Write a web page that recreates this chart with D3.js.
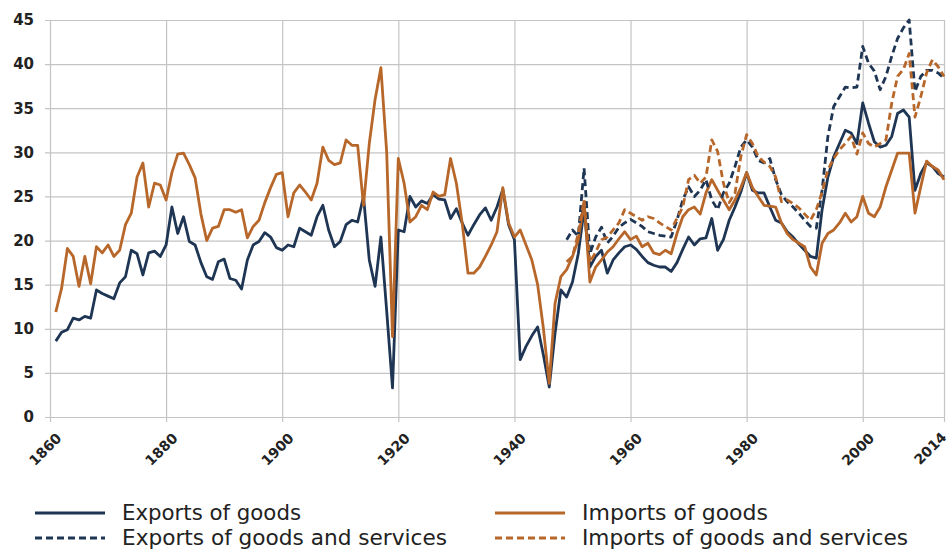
<!DOCTYPE html>
<html>
<head>
<meta charset="utf-8">
<script src="https://cdn.jsdelivr.net/npm/d3@7"></script>
<style>
  body { margin: 0; background: #fff; }
  svg { display: block; }
  .tick line { stroke: #c4c4c4; stroke-width: 1.2; }
  .tick text { font-family: "DejaVu Sans", sans-serif; font-weight: bold; fill: #222; }
  .legend text { font-family: "Liberation Sans Narrow", "DejaVu Sans Condensed", sans-serif; font-size: 22px; fill: #222; }
</style>
</head>
<body>
<svg id="chart" width="949" height="549"></svg>
<script>
// share of GDP, %, yearly
const solidStart = 1861;
const exportsGoods = [
  8.6, 9.6, 9.9, 11.2, 11.0, 11.4, 11.2, 14.4, 14.0,            // 1861-1869
  13.7, 13.4, 15.2, 15.9, 18.9, 18.5, 16.1, 18.6, 18.8, 18.2,   // 1870s
  19.5, 23.8, 20.8, 22.7, 19.9, 19.5, 17.5, 15.9, 15.6, 17.6,   // 1880s
  17.9, 15.7, 15.5, 14.5, 17.8, 19.5, 19.9, 20.9, 20.4, 19.2,   // 1890s
  18.9, 19.5, 19.3, 21.4, 21.0, 20.6, 22.7, 24.0, 21.2, 19.3,   // 1900s
  19.9, 21.8, 22.3, 22.1, 25.0, 17.8, 14.8, 20.4, 12.0, 3.3,    // 1910s
  21.2, 21.0, 25.0, 23.8, 24.5, 24.2, 25.2, 24.7, 24.6, 22.5,   // 1920s
  23.6, 22.0, 20.6, 21.8, 22.9, 23.7, 22.3, 23.8, 25.8, 21.8,   // 1930s
  20.1, 6.5, 8.0, 9.2, 10.2, 7.0, 3.4, 9.5, 14.4, 13.6,         // 1940s
  15.3, 18.5, 23.5, 17.0, 18.2, 18.9, 16.3, 17.8, 18.6, 19.3,   // 1950s
  19.5, 19.0, 18.2, 17.5, 17.2, 17.0, 17.0, 16.5, 17.5, 19.0,   // 1960s
  20.4, 19.5, 20.2, 20.3, 22.5, 18.9, 20.1, 22.3, 23.8, 25.5,   // 1970s
  27.7, 25.7, 25.4, 25.4, 23.8, 22.3, 22.0, 21.0, 20.4, 19.6,   // 1980s
  18.9, 18.2, 18.0, 23.5, 27.2, 29.5, 31.0, 32.5, 32.2, 31.0,   // 1990s
  35.6, 33.3, 31.2, 30.6, 30.8, 31.8, 34.4, 34.8, 34.0, 25.7,   // 2000s
  27.6, 28.8, 28.4, 27.6, 27.2                                  // 2010-2014
];
const importsGoods = [
  11.9, 14.6, 19.1, 18.2, 14.8, 18.2, 15.1, 19.3, 18.6,
  19.5, 18.2, 18.9, 21.8, 23.1, 27.2, 28.8, 23.8, 26.5, 26.3,
  24.6, 27.7, 29.8, 29.9, 28.6, 27.1, 23.0, 20.0, 21.4, 21.6,
  23.5, 23.5, 23.2, 23.5, 20.3, 21.6, 22.3, 24.3, 26.0, 27.5,
  27.7, 22.7, 25.4, 26.3, 25.5, 24.6, 26.5, 30.6, 29.1, 28.6,
  28.8, 31.4, 30.8, 30.8, 24.0, 31.0, 36.0, 39.6, 30.0, 9.1,
  29.3, 26.5, 22.1, 22.7, 24.0, 23.5, 25.5, 25.0, 25.2, 29.3,
  26.5, 22.0, 16.3, 16.3, 17.0, 18.2, 19.5, 21.0, 26.0, 22.0,
  20.4, 21.2, 19.5, 17.8, 15.0, 10.0, 3.8, 12.9, 15.9, 16.7,
  18.2, 20.1, 24.4, 15.3, 17.0, 17.8, 18.7, 19.3, 20.2, 21.0,
  20.1, 20.5, 19.3, 19.7, 18.6, 18.4, 18.9, 18.5, 20.8, 22.7,
  23.5, 23.8, 23.0, 25.4, 26.9, 25.7, 24.6, 23.5, 24.6, 26.0,
  27.7, 26.0, 25.0, 24.0, 23.9, 23.8, 22.0, 20.8, 20.1, 19.7,
  19.3, 17.0, 16.1, 19.7, 20.8, 21.2, 22.0, 23.1, 22.1, 22.7,
  25.0, 23.1, 22.7, 23.8, 26.1, 28.0, 29.9, 29.9, 29.9, 23.1,
  26.1, 29.0, 28.4, 28.0, 26.9
];

const dashedStart = 1949;
const exportsGoodsServices = [
  20.1,                                                         // 1949
  21.2, 20.5, 28.2, 18.5, 20.4, 21.5, 19.7, 20.5, 21.5, 22.0,
  22.4, 22.0, 21.6, 21.0, 20.8, 20.6, 20.5, 20.4, 22.3, 24.6,
  26.1, 25.0, 25.7, 26.9, 24.6, 23.5, 25.4, 26.5, 28.4, 30.6,
  31.4, 30.6, 29.1, 28.8, 29.3, 26.9, 25.2, 24.4, 23.8, 23.1,
  22.3, 21.6, 21.4, 25.7, 31.8, 35.2, 36.3, 37.4, 37.3, 37.4,
  42.0, 40.1, 39.2, 37.1, 38.6, 40.9, 42.9, 44.1, 45.0, 36.9,
  38.6, 39.3, 39.3, 39.0, 38.4
];
const importsGoodsServices = [
  17.6,
  18.2, 20.8, 24.6, 17.5, 18.7, 20.1, 20.4, 21.2, 22.0, 23.5,
  23.1, 22.7, 22.3, 22.7, 22.5, 22.0, 21.6, 21.2, 22.5, 23.8,
  26.9, 27.4, 26.5, 27.2, 31.4, 30.1, 26.5, 24.3, 25.4, 29.5,
  32.0, 31.0, 29.5, 28.9, 28.4, 27.2, 24.4, 24.6, 24.2, 23.7,
  23.0, 22.3, 23.5, 25.5, 28.0, 29.3, 30.3, 31.0, 31.8, 29.8,
  32.2, 31.0, 30.6, 31.0, 31.4, 35.6, 38.6, 39.4, 41.2, 34.0,
  36.3, 39.0, 40.5, 39.7, 38.6
];

const xTicks = [1860, 1880, 1900, 1920, 1940, 1960, 1980, 2000, 2014];
const yTicks = [0, 5, 10, 15, 20, 25, 30, 35, 40, 45];

const navy = '#1f3554';
const orange = '#b8672a';

const series = [
  { name: 'Exports of goods', start: solidStart, values: exportsGoods, color: navy, dash: null },
  { name: 'Imports of goods', start: solidStart, values: importsGoods, color: orange, dash: null },
  { name: 'Exports of goods and services', start: dashedStart, values: exportsGoodsServices, color: navy, dash: '7,4' },
  { name: 'Imports of goods and services', start: dashedStart, values: importsGoodsServices, color: orange, dash: '7,4' }
];

const plotLeft = 50;
const plotRight = 944;
const plotTop = 20;
const plotBottom = 417;

const x = d3.scaleLinear().domain([1860, 2014]).range([plotLeft, plotRight]);
const y = d3.scaleLinear().domain([0, 45]).range([plotBottom, plotTop]);

const svg = d3.select('#chart');

// y grid + labels
const yAxis = svg.append('g')
  .attr('transform', `translate(${plotLeft - 5},0)`)
  .call(d3.axisLeft(y).tickValues(yTicks).tickSize(-(plotRight - plotLeft + 5)).tickPadding(11));
yAxis.select('.domain').remove();
yAxis.selectAll('text').style('font-size', '15px');

// x grid + rotated labels
const xAxis = svg.append('g')
  .attr('transform', `translate(0,${plotBottom + 5})`)
  .call(d3.axisBottom(x).tickValues(xTicks).tickFormat(d3.format('d')).tickSize(-(plotBottom + 5 - plotTop)));
xAxis.select('.domain').remove();
xAxis.selectAll('text')
  .style('font-size', '14px')
  .attr('text-anchor', 'end')
  .attr('dy', null)
  .attr('y', null)
  .attr('transform', (d) => (d === 2014 ? 'translate(3,16) rotate(-45)' : 'translate(12,17) rotate(-45)'));

const line = d3.line()
  .x((d) => x(d.year))
  .y((d) => y(d.value));

// solid first, dashed on top
series.slice().sort((a, b) => (a.dash ? 1 : 0) - (b.dash ? 1 : 0)).forEach((s) => {
  const pts = s.values.map((v, i) => ({ year: s.start + i, value: v }));
  svg.append('path')
    .datum(pts)
    .attr('fill', 'none')
    .attr('stroke', s.color)
    .attr('stroke-width', 2.8)
    .attr('stroke-linejoin', 'round')
    .attr('stroke-dasharray', s.dash)
    .attr('d', line);
});

// legend
const legendPos = [
  { x: 35, y: 513, tx: 122, ty: 520, len: 179 },
  { x: 495, y: 513, tx: 582, ty: 520, len: 186 },
  { x: 35, y: 538, tx: 122, ty: 545, len: 325 },
  { x: 495, y: 538, tx: 582, ty: 545, len: 326 }
];
const legend = svg.append('g').attr('class', 'legend');
series.forEach((s, i) => {
  const p = legendPos[i];
  legend.append('line')
    .attr('x1', p.x).attr('x2', p.x + 70)
    .attr('y1', p.y).attr('y2', p.y)
    .attr('stroke', s.color)
    .attr('stroke-width', 2.8)
    .attr('stroke-dasharray', s.dash);
  legend.append('text')
    .attr('x', p.tx).attr('y', p.ty)
    .attr('textLength', p.len)
    .attr('lengthAdjust', 'spacingAndGlyphs')
    .text(s.name);
});
</script>
</body>
</html>
